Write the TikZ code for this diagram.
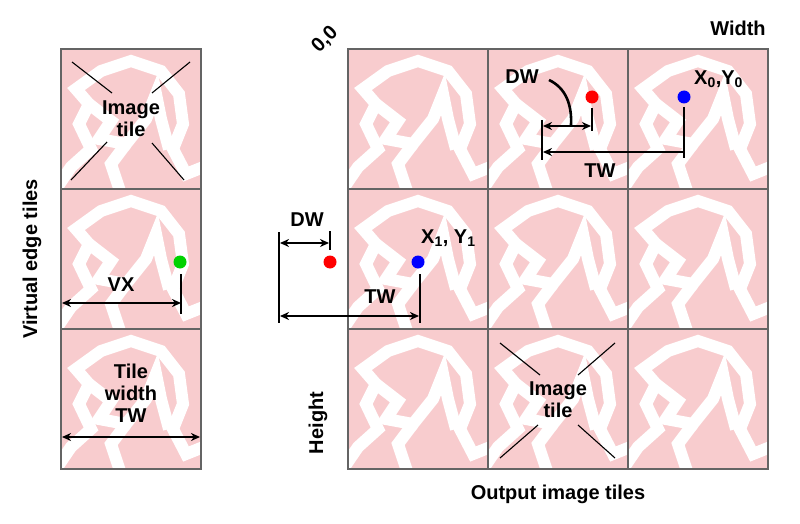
\documentclass[tikz,border=0pt]{standalone}
\usepackage{fontspec}
\setmainfont{Liberation Sans}
\usetikzlibrary{arrows.meta}
\begin{document}
\begin{tikzpicture}[x=1pt,y=-1pt,
  lbl/.style={font=\fontsize{20}{22}\selectfont\bfseries,inner sep=0pt,align=center},
  dim/.style={line width=2.6pt,black},
  arr/.style={dim,{Stealth[length=9pt,width=8pt]}-{Stealth[length=9pt,width=8pt]}},
  arrl/.style={dim,{Stealth[length=9pt,width=8pt]}-},
  dotc/.style={circle,inner sep=0pt,minimum size=13pt},
  thin/.style={line width=1.1pt,black}]
\definecolor{pinkt}{RGB}{248,204,206}
\definecolor{gridc}{RGB}{100,100,100}
\useasboundingbox (0,0) rectangle (800,524);
\tikzset{tile/.pic={
  \begin{scope}
  \clip (0,0) rectangle (140,140);
  \fill[pinkt] (0,0) rectangle (140,140);
  \draw[white,line width=12pt] (-5,140) -- (10,118) -- (30,100) -- (18,75) -- (28,55) -- (15,40) -- (40,22) -- (70,12) -- (100,22) -- (118,45) -- (122,75) -- (112,100) -- (125,125) -- (150,115);
  \draw[white,line width=12pt] (28,55) -- (50,72) -- (38,90) -- (65,95) -- (85,70) -- (95,45) -- (100,70) -- (108,100);
  \draw[white,line width=12pt] (65,95) -- (50,115) -- (60,145);
  \end{scope}
  \draw[gridc,line width=2.6pt] (0,0) rectangle (140,140);
}}
% left column
\foreach \r in {0,1,2} \pic at (61,49+140*\r) {tile};
% right grid
\foreach \c in {0,1,2} \foreach \r in {0,1,2} \pic at (348+140*\c,49+140*\r) {tile};

% left top tile
\node[lbl] (lt) at (131,119) {Image\\tile};
\draw[thin] (72,62) -- (112,93);
\draw[thin] (190,62) -- (152,93);
\draw[thin] (71,180) -- (107,142);
\draw[thin] (184,180) -- (152,143);
% VX
\node[dotc,fill={rgb,255:red,0;green,210;blue,0}] (g) at (180,262) {};
\coordinate (vxa) at (181,274); \coordinate (vxb) at (181,314);
\draw[dim] (vxa) -- (vxb);
\coordinate (vxl) at (62,303); \coordinate (vxr) at (181,303);
\draw[arr] (vxl) -- (vxr);
\node[lbl] (vx) at (121,285) {VX};
% Tile width
\node[lbl] (tw0) at (131,393) {Tile\\width\\TW};
\coordinate (twl) at (62,437); \coordinate (twr) at (200,437);
\draw[arr] (twl) -- (twr);
\node[lbl,rotate=90] (vet) at (32,259) {Virtual edge tiles};

% right labels
\node[lbl,rotate=45] (oo) at (325,40) {0,0};
\node[lbl] (wd) at (738,28) {Width};
\node[lbl,rotate=90] (ht) at (318,423) {Height};
\node[lbl] (oit) at (558,494) {Output image tiles};

% top row
\node[dotc,fill=red] (r0) at (592,97) {};
\node[dotc,fill=blue] (b0) at (684,97) {};
\node[lbl] (dw0) at (522,77) {DW};
\node[lbl,anchor=west] (xy0) at (694,79) {X\textsubscript{0},Y\textsubscript{0}};
\coordinate (c1) at (549,80); \coordinate (c2) at (571,125);
\draw[dim] (c1) .. controls (566,88) and (572,105) .. (c2);
\coordinate (v1a) at (542,120); \coordinate (v1b) at (542,160);
\draw[dim] (v1a) -- (v1b);
\coordinate (v2a) at (592,108); \coordinate (v2b) at (592,131);
\draw[dim] (v2a) -- (v2b);
\coordinate (v3a) at (684,107); \coordinate (v3b) at (684,158);
\draw[dim] (v3a) -- (v3b);
\coordinate (d1l) at (543,126); \coordinate (d1r) at (591,126);
\draw[arr] (d1l) -- (d1r);
\coordinate (t1l) at (543,152); \coordinate (t1r) at (684,152);
\draw[arrl] (t1l) -- (t1r);
\node[lbl] (tw1) at (600,171) {TW};

% middle row
\node[dotc,fill=red] (r1) at (330,262) {};
\node[dotc,fill=blue] (b1) at (418,262) {};
\node[lbl] (dw1) at (307,220) {DW};
\node[lbl,anchor=west] (xy1) at (421,238) {X\textsubscript{1}, Y\textsubscript{1}};
\coordinate (u1a) at (279,232); \coordinate (u1b) at (279,323);
\draw[dim] (u1a) -- (u1b);
\coordinate (u2a) at (330,231); \coordinate (u2b) at (330,250);
\draw[dim] (u2a) -- (u2b);
\coordinate (u3a) at (420,274); \coordinate (u3b) at (420,323);
\draw[dim] (u3a) -- (u3b);
\coordinate (d2l) at (280,243); \coordinate (d2r) at (329,243);
\draw[arr] (d2l) -- (d2r);
\coordinate (t2l) at (280,316); \coordinate (t2r) at (419,316);
\draw[arr] (t2l) -- (t2r);
\node[lbl] (tw2) at (380,297) {TW};

% bottom middle tile
\node[lbl] (it2) at (558,400) {Image\\tile};
\draw[thin] (500,343) -- (540,375);
\draw[thin] (615,343) -- (578,375);
\draw[thin] (500,458) -- (538,425);
\draw[thin] (615,458) -- (578,425);
\end{tikzpicture}
\end{document}
